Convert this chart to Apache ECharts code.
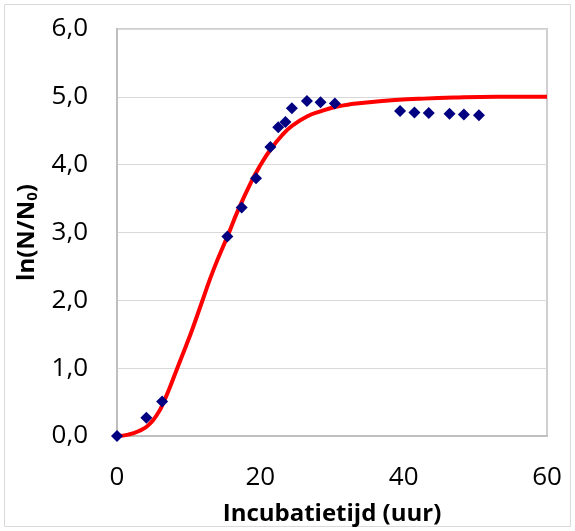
<!DOCTYPE html>
<html>
<head>
<meta charset="utf-8">
<script src="https://cdn.jsdelivr.net/npm/echarts@6/dist/echarts.min.js"></script>
<style>
    html, body { margin: 0; padding: 0; background: #fff; }
    #chart { width: 575px; height: 531px; }
</style>
</head>
<body>
<div id="chart"></div>
<script>
// meetpunten (uur, ln(N/N0))
var measuredX = [0, 4.1, 6.3, 15.4, 17.4, 19.4, 21.4, 22.5, 23.5, 24.4, 26.5, 28.4, 30.4,
    39.5, 41.5, 43.5, 46.4, 48.4, 50.5];
var measuredY = [0, 0.27, 0.51, 2.94, 3.37, 3.80, 4.26, 4.55, 4.63, 4.83, 4.94, 4.92, 4.90,
    4.79, 4.77, 4.76, 4.75, 4.74, 4.73];

// modelcurve
var modelX = [0, 1.6, 3, 4.4, 5.8, 6.5, 7.2, 8.3, 9.6, 10.5, 12, 13.5, 15.4, 16.9, 18.8, 20, 21.4,
    23, 24.4, 26.5, 28.5, 30.4, 32.5, 37, 42, 47, 53, 60];
var modelY = [0, 0.02, 0.07, 0.16, 0.35, 0.50, 0.67, 0.97, 1.32, 1.57, 2.02, 2.46, 2.94, 3.33, 3.76, 3.99, 4.22,
    4.43, 4.57, 4.71, 4.79, 4.85, 4.89, 4.94, 4.97, 4.99, 5.0, 5.0];

var xTicks = [0, 20, 40, 60];
var yTicks = [0, 1, 2, 3, 4, 5, 6];

function pairs(xs, ys) {
    var out = [];
    for (var i = 0; i < xs.length; i++) {
        out.push([xs[i], ys[i]]);
    }
    return out;
}

var chart = echarts.init(document.getElementById('chart'));
var font = '"Open Sans", "Liberation Sans", sans-serif';

var option = {
    animation: false,
    backgroundColor: '#fff',
    graphic: [{
        type: 'rect',
        shape: { x: 4.5, y: 4.5, width: 566, height: 522 },
        style: { fill: 'none', stroke: '#d9d9d9', lineWidth: 1 },
        silent: true
    }],
    grid: {
        left: 117, right: 28, top: 29, bottom: 94,
        show: true,
        borderColor: '#cfcfcf',
        borderWidth: 2,
        backgroundColor: 'transparent'
    },
    xAxis: {
        type: 'value',
        min: xTicks[0],
        max: xTicks[xTicks.length - 1],
        interval: 20,
        name: 'Incubatietijd (uur)',
        nameLocation: 'middle',
        nameGap: 66,
        nameTextStyle: { fontFamily: font, fontSize: 24, fontWeight: 'bold', color: '#000' },
        axisLine: { show: true, lineStyle: { color: '#bfbfbf', width: 2 } },
        axisTick: { show: false },
        splitLine: { show: false },
        axisLabel: { fontFamily: font, fontSize: 26, color: '#000', margin: 29 }
    },
    yAxis: {
        type: 'value',
        min: yTicks[0],
        max: yTicks[yTicks.length - 1],
        interval: 1,
        name: '{a|ln(N/N}{b|0}{a|)}',
        nameLocation: 'middle',
        nameRotate: 90,
        nameGap: 72,
        nameTextStyle: {
            rich: {
                a: { fontFamily: font, fontSize: 24, fontWeight: 'bold', color: '#000' },
                b: { fontFamily: font, fontSize: 15, fontWeight: 'bold', color: '#000', padding: [12, 0, 0, 0] }
            }
        },
        axisLine: { show: true, lineStyle: { color: '#bfbfbf', width: 2 } },
        axisTick: { show: false },
        splitLine: { show: true, lineStyle: { color: '#d9d9d9', width: 1 } },
        axisLabel: {
            fontFamily: font, fontSize: 26, color: '#000', margin: 29,
            formatter: function (v) { return v.toFixed(1).replace('.', ','); }
        }
    },
    series: [
        {
            type: 'line',
            data: pairs(modelX, modelY),
            smooth: true,
            showSymbol: false,
            lineStyle: { color: '#ff0000', width: 4 },
            z: 2
        },
        {
            type: 'scatter',
            data: pairs(measuredX, measuredY),
            symbol: 'diamond',
            symbolSize: 12,
            itemStyle: { color: '#000080', opacity: 1 },
            z: 3
        }
    ]
};
chart.setOption(option);
</script>
</body>
</html>
